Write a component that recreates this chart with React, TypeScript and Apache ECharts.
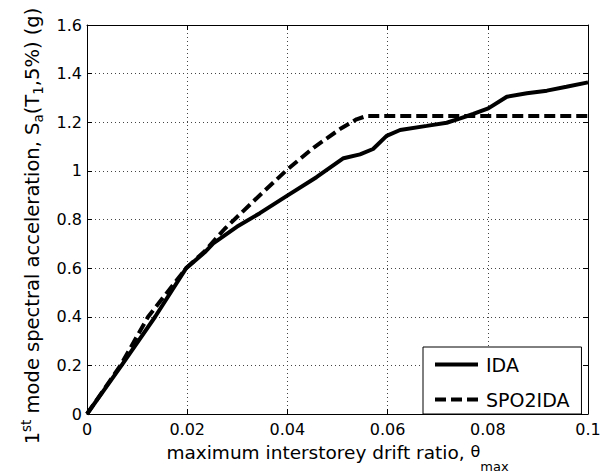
import React, { useEffect, useRef } from "react";
import * as echarts from "echarts";

// ---- data ----
const idaDrift = [0, 0.0069, 0.0136, 0.0198, 0.0235, 0.0252, 0.0299, 0.0345, 0.0399, 0.0458, 0.0512, 0.0545, 0.0571, 0.0598, 0.0625, 0.0678, 0.0718, 0.0745, 0.0771, 0.0801, 0.0838, 0.0878, 0.0918, 0.0957, 0.1];
const idaSa = [0, 0.2, 0.4, 0.6, 0.665, 0.702, 0.77, 0.826, 0.897, 0.974, 1.052, 1.068, 1.09, 1.144, 1.168, 1.185, 1.198, 1.216, 1.234, 1.257, 1.305, 1.319, 1.33, 1.346, 1.364];

const spoDrift = [0, 0.0067, 0.0122, 0.0198, 0.0235, 0.0275, 0.0345, 0.0399, 0.0452, 0.0505, 0.0538, 0.0558, 0.1];
const spoSa = [0, 0.2, 0.4, 0.6, 0.67, 0.762, 0.9, 1.004, 1.095, 1.172, 1.212, 1.226, 1.226];

const xTickLabels = ["0", "0.02", "0.04", "0.06", "0.08", "0.1"];
const yTickLabels = ["0", "0.2", "0.4", "0.6", "0.8", "1", "1.2", "1.4", "1.6"];
const seriesNames = ["IDA", "SPO2IDA"];

const FONT = "DejaVu Sans";

export default function App() {
  const ref = useRef<HTMLDivElement>(null);
  useEffect(() => {
    if (!ref.current) return;
    const chart = echarts.init(ref.current, undefined, { renderer: "svg" });
    const axisLine = { show: true, onZero: false, lineStyle: { color: "#000", width: 1 } };
    const axisTick = { show: true, inside: true, length: 5, lineStyle: { color: "#000", width: 1 } };
    const grid = { show: true, lineStyle: { color: "#444", width: 1, type: [1, 3] as any } };
    chart.setOption({
      animation: false,
      backgroundColor: "#fff",
      textStyle: { fontFamily: FONT },
      grid: { left: 87, right: 14, top: 25, bottom: 61, containLabel: false, outerBoundsMode: "none" },
      legend: {
        orient: "vertical",
        left: 423,
        top: 347,
        padding: [8, 12, 5, 10],
        itemWidth: 43,
        itemHeight: 18,
        itemGap: 16,
        backgroundColor: "#fff",
        borderColor: "#000",
        borderWidth: 1,
        borderRadius: 0,
        itemStyle: { opacity: 0, borderWidth: 0 },
        lineStyle: { width: 4 },
        textStyle: { fontFamily: FONT, fontSize: 19, color: "#000", padding: [0, 0, 0, 3] },
        data: seriesNames,
      },
      xAxis: [
        {
          type: "value",
          position: "bottom",
          min: 0,
          max: 0.1,
          interval: 0.02,
          axisLine,
          axisTick,
          splitLine: grid,
          axisLabel: {
            color: "#000",
            fontSize: 16,
            fontFamily: FONT,
            margin: 7,
            formatter: (v: number) => xTickLabels[Math.round(v / 0.02)],
          },
          name: "{n|maximum interstorey drift ratio, }{th|θ}{sub|max}",
          nameLocation: "middle",
          nameGap: 29,
          nameTextStyle: {
            color: "#000",
            fontFamily: FONT,
            rich: {
              n: { fontSize: 18.5, lineHeight: 20, verticalAlign: "top", color: "#000", fontFamily: FONT },
              th: { fontSize: 16, lineHeight: 20, verticalAlign: "top", color: "#000", fontFamily: FONT },
              sub: { fontSize: 13, lineHeight: 30, verticalAlign: "bottom", color: "#000", fontFamily: FONT },
            },
          },
        },
        {
          type: "value",
          position: "top",
          min: 0,
          max: 0.1,
          interval: 0.02,
          axisLine,
          axisTick,
          axisLabel: { show: false },
          splitLine: { show: false },
        },
      ],
      yAxis: [
        {
          type: "value",
          position: "left",
          min: 0,
          max: 1.6,
          interval: 0.2,
          axisLine,
          axisTick,
          splitLine: grid,
          axisLabel: {
            color: "#000",
            fontSize: 16,
            fontFamily: FONT,
            margin: 5,
            formatter: (v: number) => yTickLabels[Math.round(v / 0.2)],
          },
          name: "{n|1}{sup|st}{n| mode spectral acceleration, S}{sub|a}{n|(T}{sub|1}{n|,5%) (g)}{e|}",
          nameLocation: "middle",
          nameGap: 42,
          nameTextStyle: {
            color: "#000",
            fontFamily: FONT,
            rich: {
              n: { fontSize: 19.5, lineHeight: 26, verticalAlign: "middle", color: "#000", fontFamily: FONT },
              sup: { fontSize: 13.5, lineHeight: 13, verticalAlign: "top", color: "#000", fontFamily: FONT },
              sub: { fontSize: 13.5, lineHeight: 13, verticalAlign: "bottom", color: "#000", fontFamily: FONT },
              e: { width: 13, lineHeight: 26 },
            },
          },
        },
        {
          type: "value",
          position: "right",
          min: 0,
          max: 1.6,
          interval: 0.2,
          axisLine,
          axisTick,
          axisLabel: { show: false },
          splitLine: { show: false },
        },
      ],
      series: [
        {
          name: seriesNames[0],
          type: "line",
          data: idaDrift.map((x, i) => [x, idaSa[i]]),
          symbol: "none",
          showSymbol: false,
          lineStyle: { color: "#000", width: 4 },
          itemStyle: { color: "#000" },
          z: 3,
        },
        {
          name: seriesNames[1],
          type: "line",
          data: spoDrift.map((x, i) => [x, spoSa[i]]),
          symbol: "none",
          showSymbol: false,
          lineStyle: { color: "#000", width: 4, type: [11, 5] as any },
          itemStyle: { color: "#000" },
          z: 2,
        },
      ],
    });
    return () => chart.dispose();
  }, []);
  return <div ref={ref} style={{ position: "fixed", left: 0, top: 0, width: 602, height: 475 }} />;
}
